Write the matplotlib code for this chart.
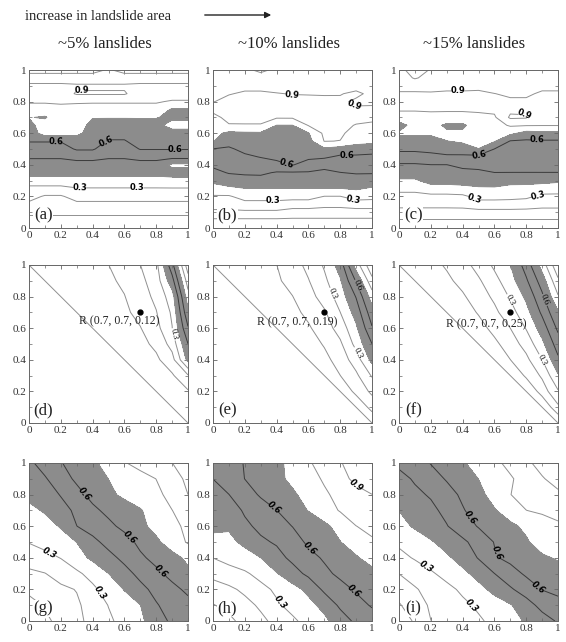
import numpy as np
import matplotlib
matplotlib.use("Agg")
import matplotlib.pyplot as plt
import matplotlib.patches as mpatches

# ---------------- data ----------------
titles = ["~5% lanslides", "~10% lanslides", "~15% lanslides"]
panel_labels = ["(a)", "(b)", "(c)", "(d)", "(e)", "(f)", "(g)", "(h)", "(i)"]
x_nodes = [0.0, 0.1, 0.2, 0.3, 0.4, 0.5, 0.6, 0.7, 0.8, 0.9, 1.0]
y_fine = [0.0, 0.05, 0.1, 0.15, 0.2, 0.25, 0.3, 0.35, 0.4, 0.45, 0.5,
          0.55, 0.6, 0.65, 0.7, 0.75, 0.8, 0.85, 0.9, 0.95, 1.0]
y_coarse = x_nodes

# row 1: one list per x column, values from y=0 to y=1
cols_a = [
    [0, .06, .125, .18, .235, .27, .36, .43, .465, .51, .56, .605, .635, .67, .705, .76, .81, .85, .875, .96, 1.03],
    [0, .06, .125, .18, .19, .27, .36, .43, .465, .51, .56, .605, .75, .75, .69, .76, .81, .85, .875, .96, 1.03],
    [0, .06, .125, .18, .19, .27, .36, .43, .465, .51, .56, .605, .75, .76, .77, .78, .81, .85, .875, .96, 1.03],
    [0, .06, .125, .18, .235, .295, .36, .43, .465, .53, .61, .64, .73, .75, .75, .77, .81, .91, .885, .96, 1.03],
    [0, .06, .125, .18, .235, .295, .36, .43, .465, .53, .61, .63, .65, .67, .705, .76, .81, .91, .885, .96, 1.03],
    [0, .06, .125, .18, .235, .295, .36, .43, .465, .51, .55, .595, .625, .665, .705, .76, .81, .91, .885, .96, .99],
    [0, .06, .125, .18, .235, .295, .36, .43, .465, .51, .55, .595, .625, .665, .705, .76, .81, .91, .885, .96, 1.03],
    [0, .06, .125, .18, .235, .295, .36, .43, .465, .53, .605, .63, .65, .67, .705, .76, .81, .85, .875, .96, 1.03],
    [0, .06, .125, .18, .235, .295, .36, .43, .465, .53, .605, .63, .65, .67, .705, .76, .81, .85, .875, .96, 1.03],
    [0, .06, .125, .18, .235, .295, .375, .43, .38, .53, .605, .63, .66, .74, .68, .69, .79, .85, .875, .96, 1.03],
    [0, .06, .125, .18, .235, .295, .375, .43, .38, .53, .605, .63, .66, .74, .68, .69, .79, .85, .875, .96, 1.03],
]
cols_b = [
    [0, .083, .18, .24, .29, .367, .418, .473, .517, .558, .598, .705, .73, .755, .78, .817, .903, .918, .935, .953, .97],
    [0, .083, .18, .24, .29, .38, .45, .506, .533, .561, .589, .63, .68, .795, .82, .853, .879, .904, .93, .95, .97],
    [0, .083, .18, .267, .338, .398, .463, .514, .55, .586, .62, .653, .687, .795, .823, .845, .868, .891, .918, .95, .98],
    [0, .083, .18, .267, .338, .398, .463, .518, .564, .603, .633, .661, .689, .795, .823, .845, .868, .891, .918, .96, 1.02],
    [0, .083, .18, .267, .338, .398, .445, .491, .58, .617, .637, .658, .679, .699, .811, .84, .869, .897, .925, .953, .98],
    [0, .083, .157, .25, .338, .398, .445, .491, .604, .623, .642, .662, .681, .699, .812, .844, .875, .903, .926, .948, .97],
    [0, .083, .157, .25, .338, .398, .445, .491, .567, .616, .642, .668, .695, .805, .83, .855, .88, .904, .926, .948, .97],
    [0, .083, .157, .229, .298, .398, .438, .477, .533, .614, .686, .803, .82, .837, .853, .87, .887, .904, .926, .948, .97],
    [0, .083, .157, .229, .298, .398, .45, .498, .542, .583, .66, .798, .817, .834, .852, .869, .886, .904, .926, .948, .97],
    [0, .083, .157, .25, .343, .41, .46, .507, .543, .579, .667, .727, .76, .793, .84, .89, .912, .885, .927, .955, .97],
    [0, .083, .157, .25, .333, .389, .45, .507, .54, .573, .65, .723, .753, .782, .825, .888, .912, .918, .929, .955, .97],
]
cols_c = [
    [0, .083, .167, .227, .273, .325, .388, .44, .49, .557, .62, .67, .713, .66, .76, .81, .851, .892, .923, .946, .98],
    [0, .083, .167, .227, .273, .325, .388, .44, .49, .557, .62, .67, .713, .74, .76, .81, .851, .892, .923, 1.01, 1.03],
    [0, .083, .167, .227, .273, .367, .429, .464, .499, .571, .627, .673, .713, .745, .776, .81, .851, .892, .929, .964, .995],
    [0, .083, .167, .227, .273, .367, .429, .464, .499, .583, .644, .699, .72, .68, .78, .807, .85, .892, .915, .95, .98],
    [0, .083, .167, .23, .28, .375, .433, .475, .522, .578, .66, .714, .72, .68, .78, .807, .85, .892, .915, .95, .98],
    [0, .083, .167, .26, .333, .389, .436, .482, .527, .573, .699, .721, .742, .763, .784, .81, .851, .892, .911, .94, .96],
    [0, .083, .167, .26, .333, .389, .444, .499, .533, .567, .599, .71, .736, .761, .787, .819, .86, .899, .927, .953, .98],
    [0, .083, .167, .26, .327, .373, .429, .499, .524, .548, .571, .595, .725, .811, .915, .88, .89, .91, .93, .95, .97],
    [0, .083, .167, .25, .32, .37, .429, .499, .522, .543, .565, .587, .667, .806, .91, .88, .89, .91, .93, .95, .97],
    [0, .083, .167, .23, .28, .35, .429, .499, .523, .545, .568, .59, .675, .804, .826, .848, .87, .891, .916, .943, .97],
    [0, .083, .167, .23, .28, .343, .417, .499, .523, .545, .568, .59, .675, .804, .826, .848, .87, .891, .916, .943, .97],
]

# rows 2 and 3: one list per y row, from y=1 (top) down to y=0
rows_d = [
    [0, .02, .039, .059, .079, .099, .148, .199, .271, .567, .96],
    [0, 0, .021, .042, .064, .085, .116, .175, .249, .46, .85],
    [0, 0, 0, .024, .048, .072, .097, .153, .224, .353, .76],
    [0, 0, 0, 0, .028, .056, .083, .127, .195, .315, .68],
    [0, 0, 0, 0, 0, .032, .064, .096, .167, .297, .59],
    [0, 0, 0, 0, 0, 0, .036, .072, .122, .237, .499],
    [0, 0, 0, 0, 0, 0, 0, .04, .081, .163, .43],
    [0, 0, 0, 0, 0, 0, 0, 0, .043, .087, .19],
    [0, 0, 0, 0, 0, 0, 0, 0, 0, .04, .09],
    [0, 0, 0, 0, 0, 0, 0, 0, 0, 0, .04],
    [0, 0, 0, 0, 0, 0, 0, 0, 0, 0, 0],
]
rows_e = [
    [0, .025, .05, .075, .099, .159, .225, .312, .444, .75, .98],
    [0, 0, .029, .057, .086, .132, .195, .278, .388, .61, .87],
    [0, 0, 0, .033, .066, .098, .163, .241, .345, .506, .75],
    [0, 0, 0, 0, .038, .075, .122, .187, .299, .44, .66],
    [0, 0, 0, 0, 0, .044, .088, .15, .242, .381, .59],
    [0, 0, 0, 0, 0, 0, .053, .109, .182, .332, .499],
    [0, 0, 0, 0, 0, 0, 0, .07, .143, .25, .43],
    [0, 0, 0, 0, 0, 0, 0, 0, .099, .18, .31],
    [0, 0, 0, 0, 0, 0, 0, 0, 0, .132, .22],
    [0, 0, 0, 0, 0, 0, 0, 0, 0, 0, .14],
    [0, 0, 0, 0, 0, 0, 0, 0, 0, 0, 0],
]
rows_f = [
    [0, .036, .071, .111, .163, .236, .318, .398, .543, .743, .98],
    [0, 0, .04, .08, .129, .186, .268, .36, .485, .648, .88],
    [0, 0, 0, .046, .087, .151, .219, .311, .42, .58, .79],
    [0, 0, 0, 0, .053, .108, .177, .261, .364, .519, .69],
    [0, 0, 0, 0, 0, .063, .129, .20, .306, .446, .62],
    [0, 0, 0, 0, 0, 0, .077, .15, .238, .374, .55],
    [0, 0, 0, 0, 0, 0, 0, .099, .175, .299, .48],
    [0, 0, 0, 0, 0, 0, 0, 0, .118, .216, .39],
    [0, 0, 0, 0, 0, 0, 0, 0, 0, .145, .29],
    [0, 0, 0, 0, 0, 0, 0, 0, 0, 0, .18],
    [0, 0, 0, 0, 0, 0, 0, 0, 0, 0, 0],
]
rows_g = [
    [.48, .541, .595, .639, .683, .735, .794, .831, .866, .899, .95],
    [.45, .49, .559, .617, .659, .701, .734, .767, .801, .86, .92],
    [.42, .45, .506, .57, .628, .681, .719, .749, .78, .827, .90],
    [.38, .408, .463, .52, .58, .623, .658, .693, .744, .799, .84],
    [.339, .37, .406, .499, .539, .578, .624, .678, .729, .776, .82],
    [.305, .333, .367, .401, .475, .53, .561, .624, .682, .747, .81],
    [.243, .27, .303, .362, .418, .471, .524, .583, .629, .669, .72],
    [.181, .197, .239, .281, .335, .399, .467, .526, .578, .63, .68],
    [.125, .15, .18, .204, .279, .343, .404, .473, .527, .573, .62],
    [.06, .109, .146, .185, .24, .303, .352, .398, .492, .54, .57],
    [.01, .077, .132, .177, .228, .283, .333, .381, .45, .52, .55],
]
rows_h = [
    [.54, .57, .604, .642, .679, .727, .788, .842, .895, .935, .97],
    [.501, .55, .601, .639, .678, .72, .765, .811, .865, .926, .95],
    [.44, .499, .558, .611, .649, .686, .733, .786, .827, .864, .899],
    [.42, .45, .513, .557, .599, .652, .704, .756, .807, .84, .86],
    [.42, .41, .48, .523, .562, .602, .641, .68, .733, .799, .82],
    [.372, .38, .418, .483, .511, .555, .618, .658, .698, .749, .79],
    [.301, .333, .366, .399, .466, .523, .568, .612, .65, .69, .74],
    [.229, .26, .285, .333, .394, .46, .522, .576, .622, .64, .67],
    [.154, .18, .22, .27, .318, .364, .424, .52, .564, .612, .63],
    [.095, .128, .169, .216, .285, .331, .37, .429, .518, .562, .61],
    [.03, .077, .132, .177, .228, .283, .332, .377, .45, .52, .55],
]
rows_i = [
    [.52, .56, .604, .648, .691, .735, .778, .826, .879, .937, .97],
    [.47, .511, .56, .608, .655, .701, .745, .789, .839, .891, .94],
    [.46, .48, .51, .563, .617, .674, .735, .798, .84, .86, .88],
    [.401, .438, .477, .526, .592, .643, .693, .746, .799, .82, .84],
    [.37, .411, .453, .495, .552, .607, .644, .681, .719, .74, .78],
    [.319, .35, .39, .437, .481, .538, .604, .647, .689, .743, .76],
    [.27, .309, .346, .383, .437, .506, .589, .626, .656, .686, .71],
    [.201, .243, .287, .331, .376, .431, .499, .56, .615, .64, .66],
    [.144, .19, .235, .274, .317, .37, .427, .487, .545, .603, .63],
    [.09, .157, .212, .246, .28, .315, .354, .392, .459, .531, .56],
    [.02, .117, .199, .229, .258, .287, .323, .366, .41, .459, .51],
]

R_point = (0.7, 0.7)
R_values = [0.12, 0.19, 0.25]

levels_row1 = [0.1, 0.2, 0.3, 0.4, 0.5, 0.6, 0.7, 0.8, 0.9, 1.0]
levels_row2 = [0.0, 0.1, 0.2, 0.3, 0.4, 0.5, 0.6, 0.7, 0.8, 0.9]
levels_row3 = [0.1, 0.2, 0.3, 0.4, 0.5, 0.6, 0.7, 0.8, 0.9]
fill_band = [0.4, 0.7]
tick_values = [0, 0.2, 0.4, 0.6, 0.8, 1]
tick_labels = ["0", "0.2", "0.4", "0.6", "0.8", "1"]

# label placement (layout) for labelled contour levels
label_spots = {
    "(a)": {0.9: [(0.33, 0.86)], 0.6: [(0.17, 0.55), (0.48, 0.56), (0.92, 0.50)], 0.3: [(0.32, 0.25), (0.68, 0.25)]},
    "(b)": {0.9: [(0.5, 0.84), (0.88, 0.76)], 0.6: [(0.46, 0.41), (0.84, 0.47)], 0.3: [(0.38, 0.17), (0.88, 0.17)]},
    "(c)": {0.9: [(0.37, 0.86), (0.79, 0.71)], 0.6: [(0.5, 0.47), (0.87, 0.575)], 0.3: [(0.47, 0.17), (0.87, 0.22)]},
    "(d)": {0.3: [(0.906, 0.56)]},
    "(e)": {0.3: [(0.755, 0.82), (0.9, 0.44)], 0.6: [(0.91, 0.87)]},
    "(f)": {0.3: [(0.7, 0.78), (0.9, 0.40)], 0.6: [(0.92, 0.78)]},
    "(g)": {0.3: [(0.13, 0.43), (0.42, 0.165)], 0.6: [(0.35, 0.8), (0.64, 0.53), (0.83, 0.31)]},
    "(h)": {0.3: [(0.41, 0.11)], 0.6: [(0.38, 0.71), (0.6, 0.45), (0.875, 0.175)], 0.9: [(0.875, 0.82)]},
    "(i)": {0.3: [(0.17, 0.34), (0.46, 0.10)], 0.6: [(0.44, 0.65), (0.59, 0.42), (0.88, 0.217)]},
}
R_text_pos = [(0.57, 0.645), (0.53, 0.635), (0.55, 0.625)]

# ---------------- figure ----------------
SERIF = ["Liberation Serif", "DejaVu Serif"]
plt.rcParams["font.family"] = SERIF
FILL = "#8c8c8c"
LIGHT = "#909090"
DARK = "#3a3a3a"


def line_color(l):
    return DARK if abs(l - 0.5) < 1e-9 or abs(l - 0.6) < 1e-9 else LIGHT


fig = plt.figure(figsize=(5.66, 6.42), dpi=100)
W, H = 566.0, 642.0
lefts = [29, 213, 399]
tops = [70, 265, 463]
aw, ah = 159, 158

grids = []
xg = np.array(x_nodes)
for cols in (cols_a, cols_b, cols_c):
    grids.append((xg, np.array(y_fine), np.array(cols).T, levels_row1))
for rows in (rows_d, rows_e, rows_f):
    grids.append((xg, np.array(y_coarse), np.array(rows)[::-1], levels_row2))
for rows in (rows_g, rows_h, rows_i):
    grids.append((xg, np.array(y_coarse), np.array(rows)[::-1], levels_row3))

for k in range(9):
    r, c = divmod(k, 3)
    ax = fig.add_axes([lefts[c] / W, (H - tops[r] - ah) / H, aw / W, ah / H])
    xs, ys, Z, lev = grids[k]
    X, Y = np.meshgrid(xs, ys)
    ax.contourf(X, Y, Z, levels=fill_band, colors=[FILL])
    spots = label_spots[panel_labels[k]]
    plain = [l for l in lev if not any(abs(l - s) < 1e-9 for s in spots)]
    ax.contour(X, Y, Z, levels=plain, colors=[line_color(l) for l in plain], linewidths=0.7)
    for lv, pts in spots.items():
        cs1 = ax.contour(X, Y, Z, levels=[lv], colors=[line_color(lv)], linewidths=0.7)
        txts = cs1.clabel(manual=pts, inline=True, fontsize=6, fmt="%.1f",
                          inline_spacing=1, colors="black")
        for t in txts:
            if r == 1:
                t.set_fontfamily(SERIF)
                t.set_fontsize(6.5)
            else:
                t.set_fontfamily(["DejaVu Sans"])
                t.set_fontweight("bold")
                if r == 2:
                    t.set_fontstyle("italic")
    if r == 1:
        ax.plot([R_point[0]], [R_point[1]], "o", color="black", ms=3.5)
        tx, ty = R_text_pos[c]
        ax.text(tx, ty, "R (%.1f, %.1f, %.2f)" % (R_point[0], R_point[1], R_values[c]),
                ha="center", va="center", fontsize=8.5, color="#222222")
    ax.text(0.09, 0.08, panel_labels[k], transform=ax.transAxes, ha="center", va="center",
            fontsize=12, color="#222222",
            bbox=dict(facecolor="white", edgecolor="none", pad=0.5))
    ax.set_xlim(0, 1)
    ax.set_ylim(0, 1)
    ax.set_xticks(tick_values)
    ax.set_xticklabels(tick_labels)
    ax.set_yticks(tick_values)
    ax.set_yticklabels(tick_labels)
    ax.set_xticks(x_nodes, minor=True)
    ax.set_yticks(x_nodes, minor=True)
    ax.tick_params(which="both", direction="in", top=True, right=True, color="#666666",
                   labelsize=8, labelcolor="#333333", pad=2)
    ax.tick_params(which="major", length=3, width=0.6)
    ax.tick_params(which="minor", length=2, width=0.5)
    for s in ax.spines.values():
        s.set_color("#666666")
        s.set_linewidth(0.7)

fig.text(25 / W, 1 - 16 / H, "increase in landslide area", fontsize=10.5, ha="left", va="center",
         color="#222222")
fig.add_artist(mpatches.FancyArrowPatch((202 / W, 1 - 15 / H), (274 / W, 1 - 15 / H),
                                        transform=fig.transFigure, arrowstyle="-|>",
                                        mutation_scale=9, color="#222222", lw=1.0))
for c in range(3):
    fig.text((lefts[c] + aw / 2 - 4) / W, 1 - 44 / H, titles[c], fontsize=12, ha="center",
             va="center", color="#222222")

fig.savefig("out.png", dpi=100)
